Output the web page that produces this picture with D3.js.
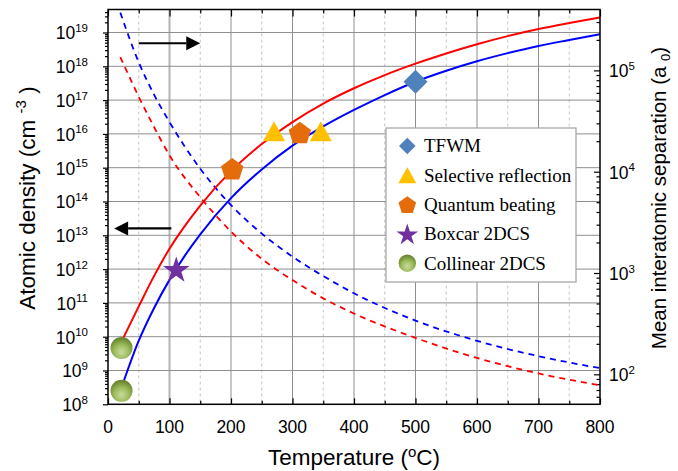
<!DOCTYPE html>
<html><head><meta charset="utf-8">
<script src="https://cdn.jsdelivr.net/npm/d3@7"></script>
<style>body{margin:0;background:#fff}svg{display:block}</style>
</head><body>
<svg id="c" width="678" height="471"></svg>
<script>
// ---------- data ----------
const temps = [25, 50, 75, 100, 125, 150, 200, 250, 300, 350, 400, 450, 500, 550, 600, 650, 700, 750, 800];
const densityRed  = [9.3e9, 7.9e10, 6.3e11, 4.0e12, 1.9e13, 7.6e13, 7.9e14, 5.0e15, 2.24e16, 7.9e16, 2.24e17, 5.5e17, 1.2e18, 2.4e18, 4.5e18, 7.8e18, 1.26e19, 1.9e19, 2.8e19];
const densityBlue = [4.5e8, 7.6e9, 7.1e10, 4.8e11, 2.5e12, 1.07e13, 1.26e14, 8.9e14, 4.5e15, 1.66e16, 5.1e16, 1.41e17, 3.5e17, 7.4e17, 1.41e18, 2.45e18, 4.0e18, 6.0e18, 8.9e18];
const sepTemps = [20, 50, 75, 100, 150, 200, 250, 300, 350, 400, 500, 600, 700, 800];
const sepRed  = [1.35e5, 5.5e4, 2.75e4, 1.45e4, 5.6e3, 2.57e3, 1.38e3, 851, 562, 398, 229, 145, 102, 78];
const sepBlue = [3.72e5, 1.2e5, 5.75e4, 3.09e4, 1.07e4, 4.68e3, 2.45e3, 1.45e3, 933, 631, 339, 214, 151, 115];

const tfwmT = [500], tfwmN = [3.5e17];
const selRefT = [270, 346], selRefN = [1.2e16, 1.2e16];
const qbT = [202, 312], qbN = [9.3e14, 1.1e16];
const boxcarT = [111], boxcarN = [1.0e12];
const collT = [22, 22], collN = [4.6e9, 2.5e8];

const xTicksMajor = [0, 100, 200, 300, 400, 500, 600, 700, 800];
const xTicksMinor = [50, 150, 250, 350, 450, 550, 650, 750];
const leftExps = [8, 9, 10, 11, 12, 13, 14, 15, 16, 17, 18, 19];
const rightExps = [2, 3, 4, 5];
const legendLabels = ["TFWM", "Selective reflection", "Quantum beating", "Boxcar 2DCS", "Collinear 2DCS"];
const arrowRight = {t1: 50, t2: 150, n: 4.8e18};
const arrowLeft = {t1: 103, t2: 10, n: 1.6e13};

// ---------- layout ----------
const L = 108, R = 600, T = 9.5, B = 404.3;
const svg = d3.select("#c");
const x = d3.scaleLinear().domain([0, 800]).range([L, R]);
const yL = d3.scaleLog().domain([1e8, Math.pow(10, 19.68)]).range([B, T]);
const yR = d3.scaleLog().domain([Math.pow(10, 1.704), Math.pow(10, 5.601)]).range([B, T]);

const defs = svg.append("defs");
defs.append("clipPath").attr("id", "clip").append("rect")
  .attr("x", L).attr("y", T).attr("width", R - L).attr("height", B - T);
const g1 = defs.append("radialGradient").attr("id", "gGreen").attr("cx", "50%").attr("cy", "68%").attr("r", "62%");
g1.append("stop").attr("offset", "0%").attr("stop-color", "#c9dba0");
g1.append("stop").attr("offset", "55%").attr("stop-color", "#9bbb59");
g1.append("stop").attr("offset", "100%").attr("stop-color", "#6a862f");

// ---------- grid ----------
const grid = svg.append("g");
grid.selectAll(".vmin").data(xTicksMinor).join("line")
  .attr("x1", d => x(d)).attr("x2", d => x(d)).attr("y1", T).attr("y2", B)
  .attr("stroke", "#c4c4c4").attr("stroke-width", 1).attr("stroke-dasharray", "3,3");
grid.selectAll(".vmaj").data(xTicksMajor.slice(1, -1)).join("line")
  .attr("x1", d => x(d)).attr("x2", d => x(d)).attr("y1", T).attr("y2", B)
  .attr("stroke", d => d === 100 ? "#b4b4b4" : "#8e8e8e").attr("stroke-width", d => d === 100 ? 2 : 1);
grid.selectAll(".h").data(leftExps.slice(1)).join("line")
  .attr("x1", L).attr("x2", R).attr("y1", d => yL(Math.pow(10, d))).attr("y2", d => yL(Math.pow(10, d)))
  .attr("stroke", "#8e8e8e").attr("stroke-width", 1);

// ---------- axes ticks ----------
function minorLog(scale) {
  const [a, b] = scale.domain();
  const out = [];
  for (let e = Math.floor(Math.log10(a)); e <= Math.ceil(Math.log10(b)); e++)
    for (let m = 2; m <= 9; m++) { const v = m * Math.pow(10, e); if (v >= a && v <= b) out.push(v); }
  return out;
}
function styleAxis(g) { g.select(".domain").remove(); g.selectAll("text").remove(); g.selectAll("line").attr("stroke", "#000").attr("stroke-width", 1.2); }

svg.append("g").attr("transform", `translate(${L},0)`)
  .call(d3.axisLeft(yL).tickValues(leftExps.map(e => Math.pow(10, e))).tickSize(5)).call(styleAxis);
svg.append("g").attr("transform", `translate(${L},0)`)
  .call(d3.axisLeft(yL).tickValues(minorLog(yL)).tickSize(3)).call(styleAxis);
svg.append("g").attr("transform", `translate(${R},0)`)
  .call(d3.axisRight(yR).tickValues(rightExps.map(e => Math.pow(10, e))).tickSize(-6)).call(styleAxis);
svg.append("g").attr("transform", `translate(${R},0)`)
  .call(d3.axisRight(yR).tickValues(minorLog(yR)).tickSize(-3.5)).call(styleAxis);
svg.append("g").attr("transform", `translate(0,${B})`)
  .call(d3.axisBottom(x).tickValues(xTicksMajor).tickSize(-6)).call(styleAxis);
svg.append("g").attr("transform", `translate(0,${B})`)
  .call(d3.axisBottom(x).tickValues(xTicksMinor).tickSize(-3.5)).call(styleAxis);
svg.append("g").attr("transform", `translate(0,${T})`)
  .call(d3.axisTop(x).tickValues(xTicksMajor).tickSize(-7)).call(styleAxis);
svg.append("g").attr("transform", `translate(0,${T})`)
  .call(d3.axisTop(x).tickValues(xTicksMinor).tickSize(-4)).call(styleAxis);

// tick labels
const FONT = "'Liberation Sans', Arial, sans-serif";
svg.append("g").selectAll("text").data(xTicksMajor).join("text")
  .attr("x", d => x(d)).attr("y", 433).attr("text-anchor", "middle")
  .attr("font-family", FONT).attr("font-size", 17.5).attr("fill", "#000").text(d => d);
const lt = svg.append("g").selectAll("text").data(leftExps).join("text")
  .attr("x", 88).attr("y", d => yL(Math.pow(10, d)) + 7).attr("text-anchor", "end")
  .attr("font-family", FONT).attr("font-size", 17.5).attr("fill", "#000");
lt.append("tspan").text("10");
lt.append("tspan").attr("dy", -7.5).attr("font-size", 11.5).text(d => d);
const rt = svg.append("g").selectAll("text").data(rightExps).join("text")
  .attr("x", 609).attr("y", d => yR(Math.pow(10, d)) + 7).attr("text-anchor", "start")
  .attr("font-family", FONT).attr("font-size", 17.5).attr("fill", "#000");
rt.append("tspan").text("10");
rt.append("tspan").attr("dy", -7.5).attr("font-size", 11.5).text(d => d);

// axis titles
const xt = svg.append("text").attr("x", (L + R) / 2).attr("y", 465).attr("text-anchor", "middle")
  .attr("font-family", FONT).attr("font-size", 22.5).attr("fill", "#000");
xt.append("tspan").text("Temperature (");
xt.append("tspan").attr("dy", -8).attr("font-size", 15).text("o");
xt.append("tspan").attr("dy", 8).text("C)");

const ylt = svg.append("text").attr("transform", "translate(35,198) rotate(-90)").attr("text-anchor", "middle")
  .attr("font-family", FONT).attr("font-size", 22.5).attr("fill", "#000");
ylt.append("tspan").text("Atomic density (cm ");
ylt.append("tspan").attr("dy", -9).attr("font-size", 15).text("-3");
ylt.append("tspan").attr("dy", 9).text(" )");

const yrt = svg.append("text").attr("transform", "translate(666,198) rotate(-90)").attr("text-anchor", "middle")
  .attr("font-family", FONT).attr("font-size", 20.5).attr("fill", "#000");
yrt.append("tspan").text("Mean interatomic separation (a ");
yrt.append("tspan").attr("dy", 4).attr("font-size", 13).text("0");
yrt.append("tspan").attr("dy", -4).text(")");

// ---------- curves ----------
const plot = svg.append("g").attr("clip-path", "url(#clip)");
const lineL = d3.line().x(d => x(d[0])).y(d => yL(d[1])).curve(d3.curveMonotoneX);
const lineR = d3.line().x(d => x(d[0])).y(d => yR(d[1])).curve(d3.curveMonotoneX);
plot.append("path").attr("d", lineR(d3.zip(sepTemps, sepBlue))).attr("fill", "none")
  .attr("stroke", "#0000ff").attr("stroke-width", 1.8).attr("stroke-dasharray", "6,5");
plot.append("path").attr("d", lineR(d3.zip(sepTemps, sepRed))).attr("fill", "none")
  .attr("stroke", "#ff0000").attr("stroke-width", 1.8).attr("stroke-dasharray", "6,5");
plot.append("path").attr("d", lineL(d3.zip(temps, densityRed))).attr("fill", "none")
  .attr("stroke", "#ff0000").attr("stroke-width", 2);
plot.append("path").attr("d", lineL(d3.zip(temps, densityBlue))).attr("fill", "none")
  .attr("stroke", "#0000ff").attr("stroke-width", 2);

// ---------- arrows ----------
function arrow(a) {
  const x1 = x(a.t1), x2 = x(a.t2), y = yL(a.n), dir = Math.sign(x2 - x1), hl = 14, hw = 7;
  svg.append("line").attr("x1", x1).attr("x2", x2 - dir * hl).attr("y1", y).attr("y2", y)
    .attr("stroke", "#000").attr("stroke-width", 2.2);
  svg.append("path").attr("d", `M${x2},${y} L${x2 - dir * hl},${y - hw} L${x2 - dir * hl},${y + hw} Z`).attr("fill", "#000");
}
arrow(arrowRight); arrow(arrowLeft);

// ---------- marker shapes ----------
function diamond(s) { return `M0,${-s} L${s},0 L0,${s} L${-s},0 Z`; }
function triangle(w, h) { return `M0,${-h / 2} L${w / 2},${h / 2} L${-w / 2},${h / 2} Z`; }
function pentagon(r) {
  const off = r * (1 - Math.cos(Math.PI / 5)) / 2;
  return d3.range(5).map(i => { const a = -Math.PI / 2 + i * 2 * Math.PI / 5; return [r * Math.cos(a), r * Math.sin(a) + off]; })
    .map((p, i) => (i ? "L" : "M") + p[0].toFixed(2) + "," + p[1].toFixed(2)).join("") + "Z";
}
function star(size) {
  const r = Math.sqrt(size * 0.8908130915292852);
  const off = r * (1 - Math.cos(Math.PI / 5)) / 2;
  return { d: d3.symbol(d3.symbolStar, size)(), off };
}
const mk = svg.append("g");
function drawMarkers(Ts, Ns, pathD, fill, dy) {
  mk.selectAll(null).data(d3.zip(Ts, Ns)).join("path")
    .attr("transform", d => `translate(${x(d[0])},${yL(d[1]) + (dy || 0)})`)
    .attr("d", pathD).attr("fill", fill);
}
drawMarkers(collT, collN, d3.symbol(d3.symbolCircle, Math.PI * 11 * 11)(), "url(#gGreen)");
const st = star(220);
drawMarkers(boxcarT, boxcarN, st.d, "#7030a0", st.off);
drawMarkers(selRefT, selRefN, triangle(22, 20), "#ffc000");
drawMarkers(qbT, qbN, pentagon(11.8), "#e46c0a");
drawMarkers(tfwmT, tfwmN, diamond(12), "#4f81bd");

// ---------- legend ----------
const lg = svg.append("g");
lg.append("rect").attr("x", 386).attr("y", 128).attr("width", 190).attr("height", 154)
  .attr("fill", "#fff").attr("stroke", "#a0a0a0").attr("stroke-width", 1.2);
const st2 = star(146);
const legShapes = [
  {d: diamond(8.3), fill: "#4f81bd", off: 0},
  {d: triangle(18, 16), fill: "#ffc000", off: 0},
  {d: pentagon(9.3), fill: "#e46c0a", off: 0},
  {d: st2.d, fill: "#7030a0", off: st2.off},
  {d: d3.symbol(d3.symbolCircle, Math.PI * 8.7 * 8.7)(), fill: "url(#gGreen)", off: 0}
];
const li = lg.selectAll(".li").data(legendLabels).join("g")
  .attr("transform", (d, i) => `translate(0,${146 + i * 29.3})`);
li.append("path").attr("transform", (d, i) => `translate(407.3,${legShapes[i].off})`)
  .attr("d", (d, i) => legShapes[i].d).attr("fill", (d, i) => legShapes[i].fill);
li.append("text").attr("x", 424).attr("y", 6.3).attr("font-family", "'Liberation Serif', 'Times New Roman', serif")
  .attr("font-size", 19).attr("fill", "#000").text(d => d);

// ---------- frame ----------
svg.append("rect").attr("x", L).attr("y", T).attr("width", R - L).attr("height", B - T)
  .attr("fill", "none").attr("stroke", "#000").attr("stroke-width", 1.5);
</script>
</body></html>
